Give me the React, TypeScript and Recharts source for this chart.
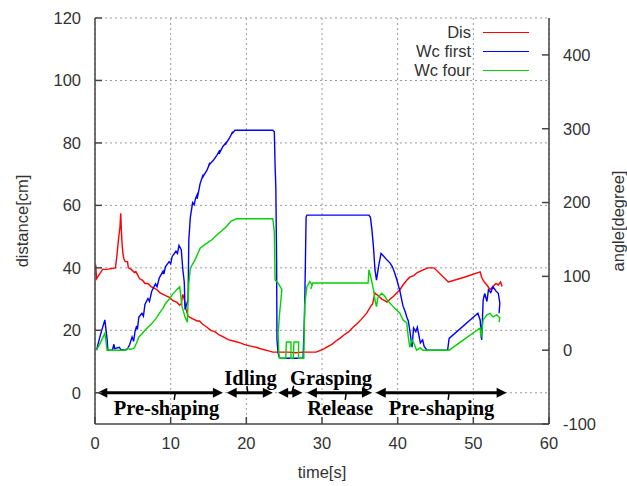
import { CartesianGrid, ComposedChart, Line, ReferenceLine, XAxis, YAxis } from "recharts";

if (typeof document !== "undefined") document.body.style.margin = "0";

const RED = "#ff0000";
const BLUE = "#0000ff";
const GREEN = "#00d400";
const FRAME = "#444";
const TEXT = "#333";
const SANS = "'Liberation Sans', Arial, sans-serif";
const SERIF = "'Liberation Serif', 'Times New Roman', serif";

const xTicks = [0, 10, 20, 30, 40, 50, 60];
const distTicks = [0, 20, 40, 60, 80, 100, 120];
const angleTicks = [-100, 0, 100, 200, 300, 400];

// [time s, distance cm]
const disPts: [number, number][] = [
  [0.1, 41], [0.2, 36.5], [0.6, 38], [1.0, 39.5], [1.6, 39.5], [2.7, 40], [2.9, 44], [3.1, 49], [3.3, 53], [3.4, 57.5],
  [3.5, 51], [3.6, 47], [3.7, 44.5], [3.8, 43], [4.0, 42], [4.3, 42], [4.4, 40], [4.8, 39.5], [5.2, 38.5], [5.4, 38.8],
  [5.9, 36.5], [6.3, 36], [6.6, 35], [7.0, 35], [7.4, 34], [7.8, 33.5], [8.2, 33], [8.6, 32], [9.0, 31.5], [9.4, 31],
  [9.9, 30.5], [10.3, 29.5], [10.8, 29], [11.2, 28], [11.4, 28.5], [11.6, 31.5], [11.8, 30], [12.0, 27], [12.3, 24.5],
  [12.8, 23.8], [13.5, 23], [13.8, 23], [14.2, 22], [14.8, 21], [15.3, 20], [15.9, 19.5], [16.4, 18.5], [16.9, 18],
  [17.6, 17], [18.4, 16.5], [19.2, 16], [19.7, 15.5], [20.4, 15], [21.4, 14.5], [22.0, 14], [22.8, 13.5], [23.5, 13],
  [24.5, 13], [25.5, 13], [26.5, 12.8], [27.5, 13], [28.5, 13], [29.2, 13], [29.7, 13.5], [30.2, 14], [30.7, 14.7],
  [31.3, 15.5], [31.8, 16.5], [32.4, 17.5], [32.9, 18.5], [33.5, 19.5], [34.1, 21], [34.6, 22], [35.2, 23.5], [35.9, 25.5],
  [36.4, 27.5], [36.7, 28.5], [37.0, 32], [37.2, 31.5], [37.5, 31], [37.9, 30], [38.3, 29.5], [38.6, 29], [39.0, 30],
  [39.5, 31], [39.9, 32], [40.3, 33], [40.7, 34.5], [41.2, 36], [41.6, 37], [42.1, 37.5], [42.6, 38.5], [43.3, 39.3],
  [44.0, 40], [44.8, 40], [46.7, 35.5], [48.8, 37], [50.9, 38.7], [51.1, 37], [51.3, 36], [51.6, 35], [51.8, 34.5],
  [52.2, 33], [52.6, 34], [53.0, 35], [53.3, 34.5], [53.6, 35.5], [53.8, 34],
];

// [time s, angle degree]
const wcFirstPts: [number, number][] = [
  [0.2, 0], [0.7, 20], [1.3, 41], [1.6, 15], [1.7, 0], [2.3, 0], [2.5, 8], [2.6, 2], [3.2, 4], [3.4, 1], [4.0, 0],
  [4.3, 2], [4.6, 8], [4.9, 18], [5.1, 12], [5.3, 26], [5.5, 33], [5.6, 28], [5.8, 45], [6.2, 50], [6.4, 46], [6.6, 62],
  [7.0, 70], [7.2, 66], [7.5, 80], [8.0, 90], [8.2, 86], [8.5, 98], [9.0, 107], [9.1, 103], [9.3, 113], [9.8, 120],
  [10.0, 117], [10.2, 127], [10.7, 134], [10.9, 131], [11.1, 142], [11.4, 136], [11.6, 110], [11.8, 92], [11.9, 55],
  [12.1, 62], [12.3, 68], [12.4, 150], [12.6, 180], [12.9, 200], [13.1, 197], [13.3, 206], [13.6, 213], [13.5, 205],
  [13.9, 226], [14.3, 238], [14.1, 232], [14.8, 244], [15.2, 254], [15.0, 250], [15.7, 258], [16.1, 264], [16.5, 271],
  [16.4, 266], [16.9, 276], [17.4, 282], [17.2, 278], [17.8, 288], [18.2, 296], [18.0, 292], [18.5, 298], [23.5, 298],
  [23.7, 296], [23.8, 250], [23.9, 220], [24.0, 120], [24.05, 14], [24.2, -4], [24.4, -11], [27.5, -11], [27.7, 50],
  [27.9, 180], [28.0, 183], [36.2, 183], [36.4, 180], [36.6, 163], [36.8, 140], [37.0, 109], [37.2, 95], [37.5, 115],
  [37.8, 131], [38.1, 128], [38.6, 122], [39.0, 118], [39.3, 113], [39.6, 105], [39.9, 95], [40.3, 80], [40.7, 60],
  [41.0, 52], [41.2, 45], [41.4, 40], [41.6, 27], [41.9, 4], [42.1, 30], [42.4, 25], [42.6, 31], [43.0, 10], [43.3, 14],
  [43.5, 5], [43.9, 0], [46.6, 0], [46.8, 16], [50.6, 50], [50.9, 41], [51.1, 14], [51.3, 68], [51.5, 77], [51.8, 66],
  [52.0, 82], [52.3, 78], [52.6, 86], [53.0, 80], [53.3, 77], [53.5, 64], [53.4, 50],
];

const wcFourPts: [number, number][] = [
  [0.2, 0], [0.8, 12], [1.3, 23], [1.6, 0], [4.0, 0], [4.4, 3], [4.6, 1], [5.0, 2], [5.2, 3], [5.5, 10], [5.8, 18],
  [6.2, 22], [6.6, 27], [7.0, 31], [7.5, 36], [8.0, 42], [8.5, 50], [9.0, 57], [9.3, 63], [9.8, 69], [10.2, 75],
  [10.8, 82], [11.2, 86], [11.5, 59], [11.9, 45], [12.2, 38], [12.4, 91], [12.6, 111], [13.2, 122], [13.9, 138],
  [14.5, 143], [14.8, 145], [15.5, 150], [16.1, 156], [16.8, 162], [17.4, 168], [18.0, 175], [18.7, 178], [23.5, 178],
  [23.7, 160], [23.8, 95], [24.2, 91], [24.7, 82], [24.4, 50], [24.2, 23], [24.3, -4], [24.4, -11], [25.2, -11],
  [25.3, 11], [25.9, 11], [25.9, -11], [26.2, -11], [26.3, 11], [26.9, 11], [26.9, -11], [27.6, -11], [27.7, 60],
  [28.0, 86], [28.4, 93], [28.7, 88], [28.5, 83], [28.8, 91], [36.1, 91], [36.2, 109], [36.5, 97], [36.8, 82],
  [37.0, 68], [37.2, 59], [37.4, 72], [37.9, 77], [38.3, 73], [38.6, 68], [39.4, 59], [39.9, 54], [40.3, 50],
  [40.7, 41], [41.2, 37], [41.4, 18], [41.6, 4], [41.9, 14], [42.2, 8], [42.5, 0], [43.0, 3], [43.3, 0], [46.8, 0],
  [50.9, 30], [51.0, 17], [51.3, 41], [51.8, 48], [52.2, 50], [52.6, 45], [53.1, 48], [53.5, 44], [53.4, 38],
];

// phase annotations along y = 0
const phaseNames = ["Pre-shaping", "Idling", "Grasping", "Release", "Pre-shaping"];
const phaseStart = [0.3, 17.4, 24.2, 28.0, 37.1];
const phaseEnd = [16.9, 23.5, 27.4, 36.6, 54.4];
const phaseTextAt = [9.45, 20.55, 31.2, 32.4, 45.8];
const phasePointer = [10.6, 20.2, 26.0, 33.2, 46.8];
const phaseAbove = [false, true, true, false, false];

const toRows = (pts: [number, number][]) => pts.map(([t, v]) => ({ t, v }));

const legendItems = [
  { name: "Dis", color: RED },
  { name: "Wc first", color: BLUE },
  { name: "Wc four", color: GREEN },
];

function phaseShape(i: number) {
  return (props: any) => {
    const { x1, x2, y1 } = props;
    const a = phaseStart[i];
    const b = phaseEnd[i];
    const px = (t: number) => x1 + ((t - a) / (b - a)) * (x2 - x1);
    const head = 10;
    const half = 5;
    const p = px(phasePointer[i]);
    const above = phaseAbove[i];
    return (
      <g>
        <line x1={x1 + head - 1} y1={y1} x2={x2 - head + 1} y2={y1} stroke="#000" strokeWidth={3} />
        <polygon points={`${x1},${y1} ${x1 + head},${y1 - half} ${x1 + head},${y1 + half}`} fill="#000" />
        <polygon points={`${x2},${y1} ${x2 - head},${y1 - half} ${x2 - head},${y1 + half}`} fill="#000" />
        {above ? (
          <line x1={p + (i === 2 ? 2 : -1)} y1={y1 - 7} x2={p} y2={y1} stroke="#000" strokeWidth={1.5} />
        ) : (
          <line x1={p} y1={y1} x2={p - 1} y2={y1 + 7} stroke="#000" strokeWidth={1.5} />
        )}
        <text
          x={px(phaseTextAt[i])}
          y={above ? y1 - 8 : y1 + 22}
          textAnchor="middle"
          fontFamily={SERIF}
          fontWeight="bold"
          fontSize={20.5}
          fill="#000"
        >
          {phaseNames[i]}
        </text>
      </g>
    );
  };
}

const tickStyle = { fontSize: 16.5, fill: TEXT, fontFamily: SANS };

export default function App() {
  return (
    <div style={{ position: "relative", width: 627, height: 486, background: "#fff" }}>
      <ComposedChart width={627} height={486} margin={{ top: 18, right: 0, bottom: 0, left: 0 }}>
        <CartesianGrid
          yAxisId="left"
          stroke="#9a9a9a"
          strokeDasharray="2 3"
          horizontalValues={distTicks}
          verticalValues={xTicks}
        />
        <XAxis
          type="number"
          dataKey="t"
          domain={[0, 60]}
          ticks={xTicks}
          allowDataOverflow
          height={62}
          stroke={FRAME}
          strokeWidth={1.5}
          tickSize={-7}
          tickMargin={20}
          tick={tickStyle}
          label={{ value: "time[s]", position: "center", dy: 17, fontSize: 16.5, fill: TEXT, fontFamily: SANS }}
        />
        <XAxis
          xAxisId="top"
          orientation="top"
          type="number"
          domain={[0, 60]}
          ticks={xTicks}
          height={0}
          stroke={FRAME}
          strokeWidth={1.5}
          tickSize={-7}
          tick={false}
        />
        <YAxis
          yAxisId="left"
          type="number"
          domain={[-10, 120]}
          ticks={distTicks}
          allowDataOverflow
          width={95}
          stroke={FRAME}
          strokeWidth={1.5}
          tickSize={-7}
          tickMargin={21}
          tick={tickStyle}
          label={{ value: "distance[cm]", angle: -90, position: "center", dx: -25, fontSize: 16.5, fill: TEXT, fontFamily: SANS }}
        />
        <YAxis
          yAxisId="right"
          orientation="right"
          type="number"
          domain={[-100, 450]}
          ticks={angleTicks}
          allowDataOverflow
          width={78}
          stroke={FRAME}
          strokeWidth={1.5}
          tickSize={-7}
          tickMargin={21}
          tick={tickStyle}
          label={{ value: "angle[degree]", angle: -90, position: "center", dx: 30, fontSize: 16.5, fill: TEXT, fontFamily: SANS }}
        />
        <Line
          yAxisId="left"
          data={toRows(disPts)}
          dataKey="v"
          stroke={RED}
          strokeWidth={1.4}
          dot={false}
          isAnimationActive={false}
        />
        <Line
          yAxisId="right"
          data={toRows(wcFirstPts)}
          dataKey="v"
          stroke={BLUE}
          strokeWidth={1.4}
          dot={false}
          isAnimationActive={false}
        />
        <Line
          yAxisId="right"
          data={toRows(wcFourPts)}
          dataKey="v"
          stroke={GREEN}
          strokeWidth={1.4}
          dot={false}
          isAnimationActive={false}
        />
        {phaseNames.map((_, i) => (
          <ReferenceLine
            key={i}
            yAxisId="left"
            segment={[
              { x: phaseStart[i], y: 0 },
              { x: phaseEnd[i], y: 0 },
            ]}
            shape={phaseShape(i)}
          />
        ))}
      </ComposedChart>
      <div style={{ position: "absolute", top: 22.5, right: 98, fontFamily: SANS, fontSize: 16.5, color: TEXT }}>
        {legendItems.map((it) => (
          <div key={it.name} style={{ display: "flex", alignItems: "center", justifyContent: "flex-end", height: 19 }}>
            <span style={{ lineHeight: "19px" }}>{it.name}</span>
            <svg width={58} height={19} style={{ display: "block" }}>
              <line x1={12} y1={9.5} x2={58} y2={9.5} stroke={it.color} strokeWidth={1.2} />
            </svg>
          </div>
        ))}
      </div>
    </div>
  );
}
